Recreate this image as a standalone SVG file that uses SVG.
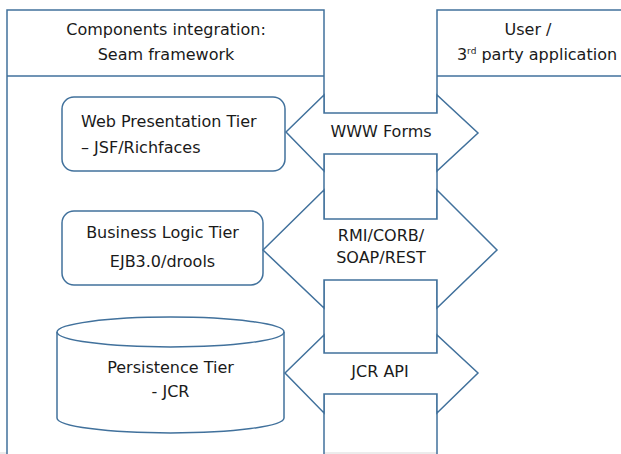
<svg xmlns="http://www.w3.org/2000/svg" width="621" height="454" viewBox="0 0 621 454">
  <style>
    .ln { fill: #ffffff; stroke: #41719C; stroke-width: 1.5; }
    .open { fill: none; stroke: #41719C; stroke-width: 1.5; }
    .t { font-family: "DejaVu Sans", "Liberation Sans", sans-serif; font-size: 16px; fill: #1a1a1a; }
    .c { text-anchor: middle; }
    .sup { font-size: 9px; }
  </style>
  <rect x="0" y="0" width="621" height="454" fill="#ffffff"/>
  <rect x="0" y="452" width="621" height="2" fill="#ececec"/>

  <g id="container-seam">
    <rect class="ln" x="7" y="10" width="317" height="460"/>
    <line class="open" x1="7" y1="76" x2="324" y2="76"/>
    <text class="t c" x="166" y="35">Components integration:</text>
    <text class="t c" x="166" y="60">Seam framework</text>
  </g>

  <g id="container-user">
    <rect class="ln" x="437" y="10" width="200" height="460"/>
    <line class="open" x1="437" y1="76" x2="621" y2="76"/>
    <text class="t c" x="528" y="35">User /</text>
    <text class="t c" x="537" y="60">3<tspan class="sup" dy="-6">rd</tspan><tspan dy="6"> party application</tspan></text>
  </g>

  <g id="web-tier">
    <rect class="ln" x="62" y="97" width="223" height="74" rx="12" ry="12"/>
    <text class="t" x="81" y="127">Web Presentation Tier</text>
    <text class="t" x="81" y="153">– JSF/Richfaces</text>
  </g>

  <g id="business-tier">
    <rect class="ln" x="62" y="211" width="201" height="74" rx="12" ry="12"/>
    <text class="t c" x="162.5" y="238">Business Logic Tier</text>
    <text class="t c" x="162.5" y="267">EJB3.0/drools</text>
  </g>

  <g id="persistence-tier">
    <path class="ln" d="M57,332 L57,418 A113.5,15 0 0 0 284,418 L284,332 A113.5,15 0 0 0 57,332 Z"/>
    <path class="open" d="M57,332 A113.5,15 0 0 0 284,332"/>
    <text class="t c" x="170.5" y="373">Persistence Tier</text>
    <text class="t c" x="170.5" y="397">- JCR</text>
  </g>

  <g id="connectors">
    <g id="www-forms">
      <polygon class="ln" points="286,132 324,95 324,113 437,113 437,95 478,133 437,171 437,154 324,154 324,171"/>
      <text class="t c" x="381" y="137">WWW Forms</text>
    </g>
    <g id="rmi-corb-soap-rest">
      <polygon class="ln" points="263,250 324,190 324,219 437,219 437,190 497,250 437,308 437,280 324,280 324,308"/>
      <text class="t c" x="381" y="241">RMI/CORB/</text>
      <text class="t c" x="381" y="263">SOAP/REST</text>
    </g>
    <g id="jcr-api">
      <polygon class="ln" points="285,373 324,335 324,353 437,353 437,335 478,373 437,413 437,394 324,394 324,413"/>
      <text class="t c" x="380" y="377">JCR API</text>
    </g>
  </g>
</svg>
